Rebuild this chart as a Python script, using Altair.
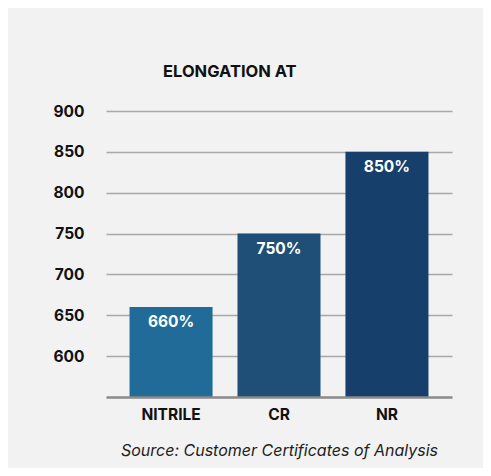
import altair as alt
import pandas as pd

categories = ["NITRILE", "CR", "NR"]
values = [660, 750, 850]
labels = ["660%", "750%", "850%"]
colors = ["#206b97", "#1f4e76", "#163f6b"]
y_ticks = [600, 650, 700, 750, 800, 850, 900]
base_value = 550

df = pd.DataFrame({"material": categories, "value": values, "label": labels,
                   "base": [base_value] * len(categories)})

FONT = "Inter"

x_enc = alt.X("material:N", sort=categories,
              scale=alt.Scale(paddingInner=0.231, paddingOuter=0.218),
              axis=alt.Axis(title="Source: Customer Certificates of Analysis",
                            titleFontStyle="italic", titleFontWeight="normal",
                            titleFontSize=16, titleColor="#222222", titleFont=FONT,
                            titlePadding=20,
                            labelAngle=0, labelFontSize=15.5, labelFontWeight="bold",
                            labelFont=FONT, labelColor="#111111", labelPadding=10,
                            ticks=False, domainColor="#8a8a8a", domainWidth=2.5,
                            zindex=1))
y_scale = alt.Scale(domain=[base_value, 900], zero=False, nice=False)

bars = alt.Chart(df).mark_bar().encode(
    x=x_enc,
    y=alt.Y("value:Q", scale=y_scale,
            axis=alt.Axis(title=None, values=y_ticks, labelFontSize=15.5,
                          labelFontWeight="bold", labelFont=FONT, labelColor="#111111",
                          labelPadding=22, ticks=False, domain=False,
                          gridColor="#a8a8a8", gridWidth=1.5)),
    y2="base:Q",
    color=alt.Color("material:N", sort=categories,
                    scale=alt.Scale(domain=categories, range=colors), legend=None),
)

text = alt.Chart(df).mark_text(color="white", fontSize=15.5, fontWeight="bold",
                               font=FONT, baseline="alphabetic", dy=20).encode(
    x=alt.X("material:N", sort=categories),
    y=alt.Y("value:Q", scale=y_scale),
    text="label:N",
)

chart = alt.layer(bars, text).properties(
    width=346, height=286,
    autosize=alt.AutoSizeParams(type="none"),
    padding={"left": 98, "top": 103, "right": 31, "bottom": 71},
    background="#f2f2f2",
    title=alt.TitleParams("ELONGATION AT", anchor="start", frame="group", dx=57,
                          offset=24, fontSize=16.5, fontWeight="bold", font=FONT,
                          color="#111111"),
).configure_view(stroke=None)

chart.save("out.html", embed_options={"renderer": "svg", "actions": False})
